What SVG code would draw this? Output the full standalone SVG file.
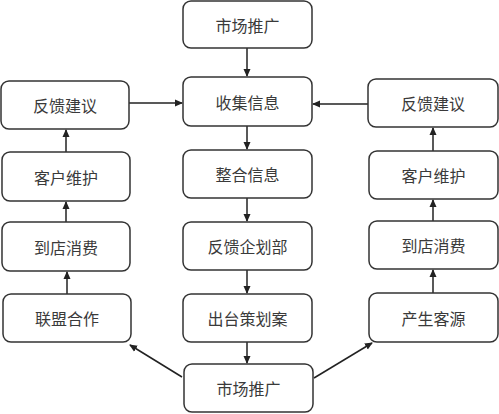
<svg xmlns="http://www.w3.org/2000/svg" width="499" height="414" viewBox="0 0 499 414">
<style>
.b{fill:#fff;stroke:#333;stroke-width:1.5}
.t{font-family:"Noto Sans CJK SC",sans-serif;font-size:16px;fill:#3a3a3a;text-anchor:middle;dominant-baseline:central}
.c{stroke:#222;stroke-width:1.5;fill:none;marker-end:url(#a)}
</style>
<defs><marker id="a" markerWidth="8" markerHeight="8" refX="7" refY="4" orient="auto" markerUnits="userSpaceOnUse"><path d="M0,0.5 L8,4 L0,7.5 z" fill="#222"/></marker></defs>
<rect width="499" height="414" fill="#fff"/>
<g id="connectors">
<line class="c" x1="247" y1="48" x2="247" y2="76"/>
<line class="c" x1="247" y1="126" x2="247" y2="149"/>
<line class="c" x1="247" y1="198" x2="247" y2="221"/>
<line class="c" x1="247" y1="270" x2="247" y2="293"/>
<line class="c" x1="247" y1="342" x2="247" y2="363"/>
<line class="c" x1="129" y1="103" x2="182" y2="103"/>
<line class="c" x1="368" y1="104" x2="313" y2="104"/>
<line class="c" x1="66" y1="152" x2="66" y2="130"/>
<line class="c" x1="66" y1="222" x2="66" y2="202"/>
<line class="c" x1="67" y1="294" x2="67" y2="272"/>
<line class="c" x1="433" y1="151" x2="433" y2="128"/>
<line class="c" x1="433" y1="221" x2="433" y2="200"/>
<line class="c" x1="433" y1="293" x2="433" y2="270"/>
<line class="c" x1="182" y1="377" x2="130" y2="345"/>
<line class="c" x1="314" y1="378" x2="372" y2="343"/>
</g>
<g id="n1"><rect class="b" x="183" y="1" width="129" height="47" rx="8"/><text class="t" x="247.5" y="24.5">市场推广</text></g>
<g id="n2"><rect class="b" x="183" y="77" width="129" height="49" rx="8"/><text class="t" x="247.5" y="101.5">收集信息</text></g>
<g id="n3"><rect class="b" x="183" y="150" width="129" height="48" rx="8"/><text class="t" x="247.5" y="174">整合信息</text></g>
<g id="n4"><rect class="b" x="183" y="222" width="129" height="48" rx="8"/><text class="t" x="247.5" y="246">反馈企划部</text></g>
<g id="n5"><rect class="b" x="183" y="294" width="129" height="48" rx="8"/><text class="t" x="247.5" y="318">出台策划案</text></g>
<g id="n6"><rect class="b" x="184" y="364" width="129" height="48" rx="8"/><text class="t" x="248.5" y="388">市场推广</text></g>
<g id="l1"><rect class="b" x="1" y="81" width="128" height="48" rx="8"/><text class="t" x="65" y="105">反馈建议</text></g>
<g id="l2"><rect class="b" x="2" y="152" width="128" height="49" rx="8"/><text class="t" x="66" y="176.5">客户维护</text></g>
<g id="l3"><rect class="b" x="2" y="222" width="128" height="49" rx="8"/><text class="t" x="66" y="246.5">到店消费</text></g>
<g id="l4"><rect class="b" x="3" y="294" width="128" height="48" rx="8"/><text class="t" x="67" y="318">联盟合作</text></g>
<g id="r1"><rect class="b" x="368" y="79" width="130" height="48" rx="8"/><text class="t" x="433" y="103">反馈建议</text></g>
<g id="r2"><rect class="b" x="369" y="151" width="129" height="48" rx="8"/><text class="t" x="433.5" y="175">客户维护</text></g>
<g id="r3"><rect class="b" x="369" y="221" width="129" height="48" rx="8"/><text class="t" x="433.5" y="245">到店消费</text></g>
<g id="r4"><rect class="b" x="369" y="293" width="129" height="49" rx="8"/><text class="t" x="433.5" y="317.5">产生客源</text></g>
</svg>
